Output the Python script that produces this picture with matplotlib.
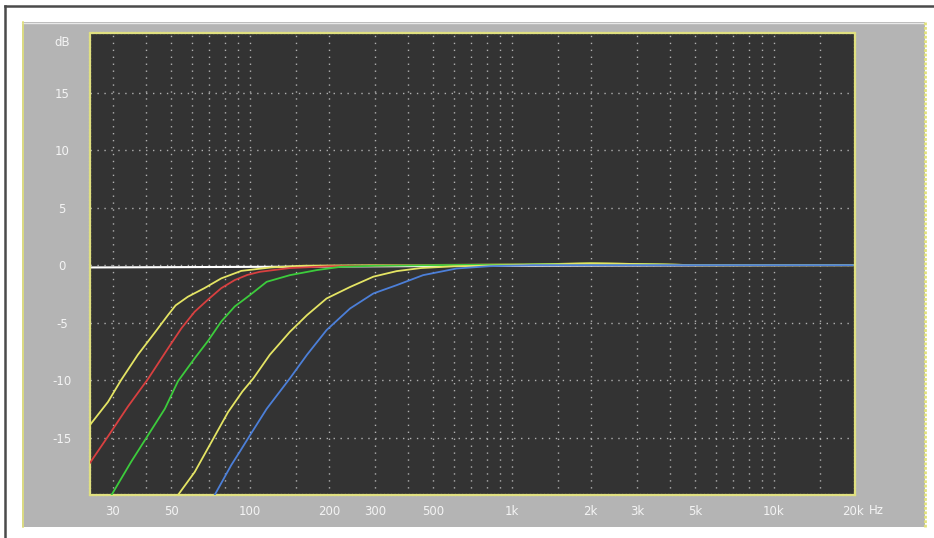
import numpy as np
import matplotlib.pyplot as plt
from matplotlib.patches import Rectangle
from matplotlib.lines import Line2D

# frequency response readings (Hz, dB)
white_f = [24.5, 100, 1000, 20000]
white_db = [-0.2, -0.15, -0.05, 0.0]

yellow1_f = [24.5, 28.7, 32.2, 37.3, 43.2, 48.6, 52, 57.9, 67, 77.7, 92.6, 120, 160, 300, 1000, 2000, 3000, 5000, 20000]
yellow1_db = [-13.9, -11.9, -10.0, -7.8, -5.9, -4.35, -3.5, -2.75, -2.0, -1.15, -0.5, -0.2, -0.05, 0.0, 0.05, 0.15, 0.1, 0.0, 0.0]

red_f = [24.5, 28.7, 34.2, 40.8, 48.6, 54.7, 61.5, 69.1, 77.7, 87.4, 97.7, 109, 142, 200, 400, 1000, 2000, 3000, 5000, 20000]
red_db = [-17.2, -14.9, -12.3, -9.9, -7.25, -5.5, -4.05, -3.0, -2.0, -1.3, -0.85, -0.58, -0.25, -0.1, 0.0, 0.05, 0.15, 0.1, 0.0, 0.0]

green_f = [29.6, 35.2, 40.8, 47.3, 53.1, 61.5, 69.1, 77.7, 87.4, 100, 115.8, 142, 180, 221, 300, 500, 1000, 2000, 3000, 5000, 20000]
green_db = [-20, -17.1, -14.8, -12.5, -10.1, -8.1, -6.6, -4.9, -3.6, -2.6, -1.45, -0.87, -0.43, -0.15, -0.05, 0.0, 0.05, 0.15, 0.1, 0.0, 0.0]

yellow2_f = [53.1, 61.5, 71.2, 82.4, 93.5, 103, 119, 142, 165, 196, 241, 296, 363, 450, 600, 1000, 2000, 3000, 5000, 20000]
yellow2_db = [-20, -18, -15.4, -12.8, -11.0, -9.85, -7.8, -5.8, -4.35, -2.9, -1.9, -1.0, -0.52, -0.25, -0.1, 0.0, 0.15, 0.1, 0.0, 0.0]

blue_f = [73.3, 84.8, 91.6, 100, 115.8, 142, 165, 196, 241, 296, 363, 458, 615, 823, 1200, 3000, 20000]
blue_db = [-20, -17.4, -16.2, -14.8, -12.5, -9.85, -7.8, -5.65, -3.77, -2.46, -1.74, -0.87, -0.29, -0.09, 0.0, 0.0, 0.0]

xticks = [30, 50, 100, 200, 300, 500, 1000, 2000, 3000, 5000, 10000, 20000]
xlabels = ['30', '50', '100', '200', '300', '500', '1k', '2k', '3k', '5k', '10k', '20k']
yticks = [-15, -10, -5, 0, 5, 10, 15]
ylabels = ['-15', '-10', '-5', '0', '5', '10', '15']
xgrid = [30, 40, 50, 60, 70, 80, 90, 100, 150, 200, 300, 400, 500, 600, 700, 800, 900,
         1000, 1500, 2000, 3000, 4000, 5000, 6000, 7000, 8000, 9000, 10000, 15000]

W, H = 934, 538
fig = plt.figure(figsize=(W / 100, H / 100), dpi=100, facecolor='white')

def fx(px):
    return px / W

def fy(py):
    return 1 - py / H

# outer frame and grey panel
fig.patches.append(Rectangle((fx(22), fy(527)), fx(925) - fx(22), fy(22) - fy(527),
                             transform=fig.transFigure, fc='#b4b4b4', ec='none', zorder=-5))
fig.lines.append(Line2D([fx(22), fx(925)], [fy(22.5), fy(22.5)], transform=fig.transFigure,
                        color='#e8e8e8', lw=1, zorder=-4))
fig.lines.append(Line2D([fx(22.5), fx(22.5)], [fy(22), fy(527)], transform=fig.transFigure,
                        color='#e2e27a', lw=1.2, zorder=-4))
fig.lines.append(Line2D([fx(924.5), fx(924.5)], [fy(22), fy(527)], transform=fig.transFigure,
                        color='#e2e27a', lw=2, linestyle=(0, (1, 0.6)), zorder=-4))
fig.lines.append(Line2D([fx(5), fx(5)], [fy(6), 0], transform=fig.transFigure, color='#4a4a4a', lw=1.8))
fig.lines.append(Line2D([fx(5), 1], [fy(6), fy(6)], transform=fig.transFigure, color='#4a4a4a', lw=1.8))

ax = fig.add_axes([fx(90), fy(495), fx(855) - fx(90), fy(33) - fy(495)])
ax.set_facecolor('#333333')
ax.set_xscale('log')
ax.set_xlim(24.5, 20400)
ax.set_ylim(-20, 20.2)

for g in xgrid:
    ax.axvline(g, color='#b0b0b0', lw=1, linestyle=(0, (1, 4)), zorder=1)
for g in yticks:
    ax.axhline(g, color='#b0b0b0', lw=1, linestyle=(0, (1, 4)), zorder=1)

ax.plot(white_f, white_db, color='#ffffff', lw=1.5, zorder=2)
ax.plot(yellow1_f, yellow1_db, color='#e4e464', lw=1.3, zorder=3)
ax.plot(red_f, red_db, color='#d84040', lw=1.3, zorder=3)
ax.plot(green_f, green_db, color='#3ccc3c', lw=1.3, zorder=3)
ax.plot(yellow2_f, yellow2_db, color='#e4e464', lw=1.3, zorder=3)
ax.plot(blue_f, blue_db, color='#4c7fd8', lw=1.3, zorder=3)

ax.set_xticks(xticks)
ax.set_xticklabels(xlabels)
ax.minorticks_off()
ax.set_yticks(yticks)
ax.set_yticklabels(ylabels)
ax.tick_params(axis='both', length=0, colors='#f4f4f4', labelsize=8.5)
ax.tick_params(axis='x', pad=7)
ax.tick_params(axis='y', pad=20)
for lab in ax.get_yticklabels():
    lab.set_horizontalalignment('center')

for s in ax.spines.values():
    s.set_color('#e0e080')
    s.set_linewidth(1.6)
    s.set_linestyle((0, (1, 0.6)))

fig.text(fx(62), fy(42), 'dB', color='#f4f4f4', fontsize=8.5, ha='center', va='center')
fig.text(fx(869), fy(510), 'Hz', color='#f4f4f4', fontsize=8.5, ha='left', va='center')

fig.savefig('out.png', dpi=100, facecolor='white')
